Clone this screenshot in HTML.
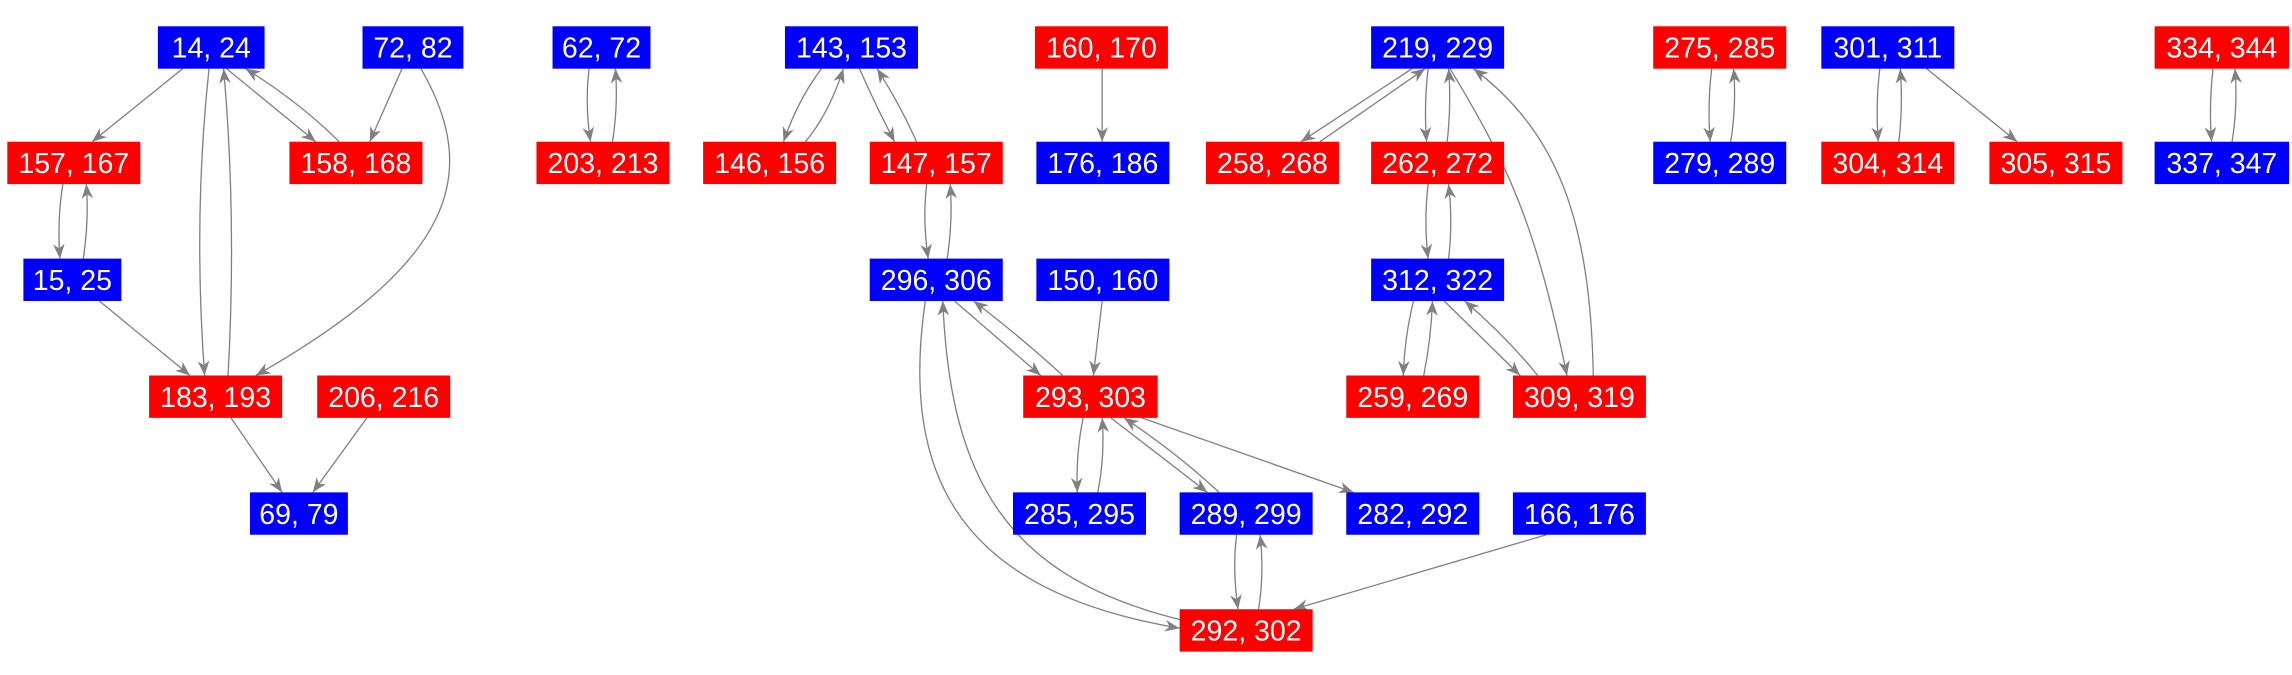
<!DOCTYPE html>
<html><head><meta charset="utf-8"><style>html,body{margin:0;padding:0;background:#fff}svg{display:block}</style></head>
<body>
<svg width="2292" height="675" viewBox="0 0 1568 462" preserveAspectRatio="none" xmlns="http://www.w3.org/2000/svg">
<defs><marker id="a" markerUnits="userSpaceOnUse" markerWidth="10" markerHeight="8" refX="10" refY="4" orient="auto"><path d="M0,0 L10,4 L0,8 L3,4 Z" fill="#808080"/></marker></defs>
<g fill="none" stroke="#808080" stroke-width="0.9" marker-end="url(#a)">
<path d="M125,47 L63,97"/>
<path d="M143,47 Q132,150 140,257"/>
<path d="M156,257 Q162,150 153,47"/>
<path d="M155,47 L216,97"/>
<path d="M232,97 Q205,70 168,47"/>
<path d="M275,47 L253,97"/>
<path d="M288,47 C330,120 310,180 175,257"/>
<path d="M43,126 Q39,150 41,177"/>
<path d="M57,177 Q61,150 59,126"/>
<path d="M68,206 L130,257"/>
<path d="M158,286 L193,337"/>
<path d="M251,286 L214,337"/>
<path d="M403,47 Q400,72 404,97"/>
<path d="M419,97 Q423,72 421,47"/>
<path d="M562,47 Q546,68 536,97"/>
<path d="M551,97 Q567,78 577,47"/>
<path d="M588,47 Q598,70 612,97"/>
<path d="M627,97 Q616,72 600,47"/>
<path d="M634,126 Q631,150 635,177"/>
<path d="M648,177 Q652,150 650,126"/>
<path d="M754,47 L754,97"/>
<path d="M653,206 L712,257"/>
<path d="M727,257 Q700,232 666,206"/>
<path d="M633,206 C615,330 660,405 807,430"/>
<path d="M807,424 C690,395 650,330 645,206"/>
<path d="M754,206 L748,257"/>
<path d="M741,286 Q736,310 737,337"/>
<path d="M751,337 Q756,312 754,286"/>
<path d="M760,286 L826,337"/>
<path d="M834,337 Q805,310 769,286"/>
<path d="M781,286 L926,337"/>
<path d="M846,366 Q843,390 847,417"/>
<path d="M861,417 Q865,392 862,366"/>
<path d="M1058,366 L885,417"/>
<path d="M966,47 L890,97"/>
<path d="M903,97 L975,47"/>
<path d="M977,47 Q974,72 976,97"/>
<path d="M990,97 Q993,72 991,47"/>
<path d="M992,47 C1030,110 1050,150 1072,257"/>
<path d="M1090,257 C1088,150 1065,90 1008,47"/>
<path d="M977,126 Q974,152 977,177"/>
<path d="M991,177 Q994,152 991,126"/>
<path d="M967,206 Q961,230 960,257"/>
<path d="M974,257 Q979,232 980,206"/>
<path d="M988,206 L1040,257"/>
<path d="M1052,257 Q1030,230 1002,206"/>
<path d="M1171,47 Q1168,72 1170,97"/>
<path d="M1184,97 Q1188,72 1186,47"/>
<path d="M1286,47 Q1283,72 1285,97"/>
<path d="M1299,97 Q1302,72 1300,47"/>
<path d="M1318,47 L1380,97"/>
<path d="M1514,47 Q1511,72 1513,97"/>
<path d="M1527,97 Q1531,72 1529,47"/>
</g>
<g font-family="Liberation Sans, Arial, sans-serif" font-size="19.5" fill="#fff" text-anchor="middle">
<rect x="108" y="18" width="73" height="29" fill="#00f"/><text x="144.5" y="39.5">14, 24</text>
<rect x="248" y="18" width="69" height="29" fill="#00f"/><text x="282.5" y="39.5">72, 82</text>
<rect x="378" y="18" width="67" height="29" fill="#00f"/><text x="411.5" y="39.5">62, 72</text>
<rect x="537" y="18" width="91" height="29" fill="#00f"/><text x="582.5" y="39.5">143, 153</text>
<rect x="708" y="18" width="91" height="29" fill="#f00"/><text x="753.5" y="39.5">160, 170</text>
<rect x="938" y="18" width="91" height="29" fill="#00f"/><text x="983.5" y="39.5">219, 229</text>
<rect x="1131" y="18" width="91" height="29" fill="#f00"/><text x="1176.5" y="39.5">275, 285</text>
<rect x="1246" y="18" width="91" height="29" fill="#00f"/><text x="1291.5" y="39.5">301, 311</text>
<rect x="1474" y="18" width="92" height="29" fill="#f00"/><text x="1520" y="39.5">334, 344</text>

<rect x="5" y="97" width="91" height="29" fill="#f00"/><text x="50.5" y="118.5">157, 167</text>
<rect x="198" y="97" width="91" height="29" fill="#f00"/><text x="243.5" y="118.5">158, 168</text>
<rect x="367" y="97" width="91" height="29" fill="#f00"/><text x="412.5" y="118.5">203, 213</text>
<rect x="481" y="97" width="91" height="29" fill="#f00"/><text x="526.5" y="118.5">146, 156</text>
<rect x="595" y="97" width="91" height="29" fill="#f00"/><text x="640.5" y="118.5">147, 157</text>
<rect x="709" y="97" width="91" height="29" fill="#00f"/><text x="754.5" y="118.5">176, 186</text>
<rect x="825" y="97" width="91" height="29" fill="#f00"/><text x="870.5" y="118.5">258, 268</text>
<rect x="938" y="97" width="91" height="29" fill="#f00"/><text x="983.5" y="118.5">262, 272</text>
<rect x="1131" y="97" width="91" height="29" fill="#00f"/><text x="1176.5" y="118.5">279, 289</text>
<rect x="1246" y="97" width="91" height="29" fill="#f00"/><text x="1291.5" y="118.5">304, 314</text>
<rect x="1361" y="97" width="91" height="29" fill="#f00"/><text x="1406.5" y="118.5">305, 315</text>
<rect x="1474" y="97" width="92" height="29" fill="#00f"/><text x="1520" y="118.5">337, 347</text>

<rect x="16" y="177" width="67" height="29" fill="#00f"/><text x="49.5" y="198.5">15, 25</text>
<rect x="595" y="177" width="91" height="29" fill="#00f"/><text x="640.5" y="198.5">296, 306</text>
<rect x="709" y="177" width="91" height="29" fill="#00f"/><text x="754.5" y="198.5">150, 160</text>
<rect x="938" y="177" width="91" height="29" fill="#00f"/><text x="983.5" y="198.5">312, 322</text>

<rect x="102" y="257" width="91" height="29" fill="#f00"/><text x="147.5" y="278.5">183, 193</text>
<rect x="217" y="257" width="91" height="29" fill="#f00"/><text x="262.5" y="278.5">206, 216</text>
<rect x="700" y="257" width="92" height="29" fill="#f00"/><text x="746" y="278.5">293, 303</text>
<rect x="921" y="257" width="91" height="29" fill="#f00"/><text x="966.5" y="278.5">259, 269</text>
<rect x="1035" y="257" width="91" height="29" fill="#f00"/><text x="1080.5" y="278.5">309, 319</text>

<rect x="171" y="337" width="67" height="29" fill="#00f"/><text x="204.5" y="358.5">69, 79</text>
<rect x="693" y="337" width="91" height="29" fill="#00f"/><text x="738.5" y="358.5">285, 295</text>
<rect x="807" y="337" width="91" height="29" fill="#00f"/><text x="852.5" y="358.5">289, 299</text>
<rect x="921" y="337" width="91" height="29" fill="#00f"/><text x="966.5" y="358.5">282, 292</text>
<rect x="1035" y="337" width="91" height="29" fill="#00f"/><text x="1080.5" y="358.5">166, 176</text>

<rect x="807" y="417" width="91" height="29" fill="#f00"/><text x="852.5" y="438.5">292, 302</text>
</g>
</svg>
</body></html>
